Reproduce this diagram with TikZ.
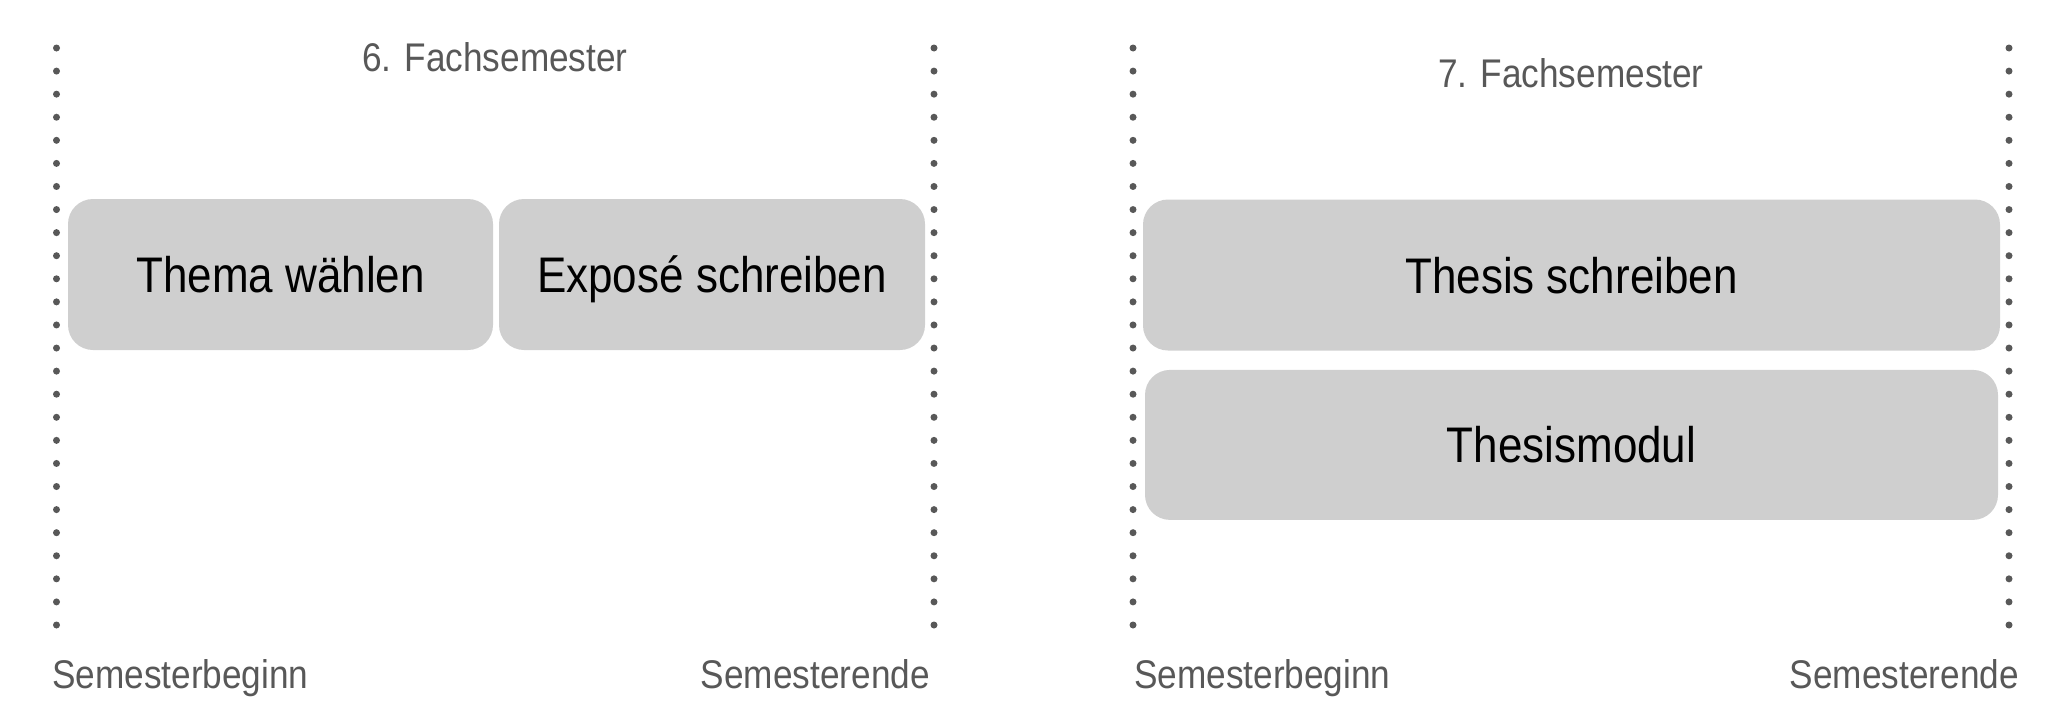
\documentclass[tikz,border=0pt]{standalone}
\usepackage{fontspec}
\setmainfont{Liberation Sans}[FakeStretch=0.88]
\usepackage{tikz}
\usetikzlibrary{
    positioning
}
\definecolor{boxgray}{HTML}{CFCFCF}
\definecolor{markgray}{HTML}{585858}
\newcommand{\taskfont}{\fontsize{50}{60}\selectfont}
\newcommand{\semfont}{\fontsize{40}{48}\selectfont}
\tikzset{
    task/.style={
        rectangle,
        rounded corners=25pt,
        fill=boxgray,
        inner sep=0pt,
        minimum height=151pt,
        text height=36pt,
        text depth=0pt,
        font=\taskfont
    },
    semline/.style={
        draw=markgray,
        line width=7pt,
        line cap=round,
        dash pattern=on 0pt off 23.08pt
    },
    semlabel/.style={
        inner sep=0pt,
        text=markgray,
        font=\semfont
    }
}

\begin{document}
\begin{tikzpicture}[
    x=1pt,
    y=-1pt
]
    \useasboundingbox (0,0) rectangle (2054,728);

    % Semestergrenzen
    \coordinate (s6a) at (56.5,48);
    \coordinate (s6b) at (56.5,625);
    \coordinate (e6a) at (934,48);
    \coordinate (e6b) at (934,625);
    \coordinate (s7a) at (1133,48);
    \coordinate (s7b) at (1133,625);
    \coordinate (e7a) at (2009,48);
    \coordinate (e7b) at (2009,625);

    \draw[semline] (s6a) -- (s6b);
    \draw[semline] (e6a) -- (e6b);
    \draw[semline] (s7a) -- (s7b);
    \draw[semline] (e7a) -- (e7b);

    % 6. Fachsemester
    \node[semlabel, anchor=base] (fs6) at (495,71) {6. Fachsemester};

    \node[task, minimum width=425pt] (thema)  at (280.5,274.5) {Thema wählen};
    \node[task, minimum width=426pt] (expose) at (712,274.5)   {Exposé schreiben};

    \node[semlabel, anchor=base west] (beg6) at (52,688)  {Semesterbeginn};
    \node[semlabel, anchor=base east] (end6) at (930,688) {Semesterende};

    % 7. Fachsemester
    \node[semlabel, anchor=base] (fs7) at (1571,87) {7. Fachsemester};

    \node[task, minimum width=857pt] (thesis) at (1571.5,275) {Thesis schreiben};
    \node[task, minimum width=853pt, minimum height=150pt,
          below=19pt of thesis] (modul) {Thesismodul};

    \node[semlabel, anchor=base west] (beg7) at (1134,688) {Semesterbeginn};
    \node[semlabel, anchor=base east] (end7) at (2019,688) {Semesterende};

\end{tikzpicture}
\end{document}
